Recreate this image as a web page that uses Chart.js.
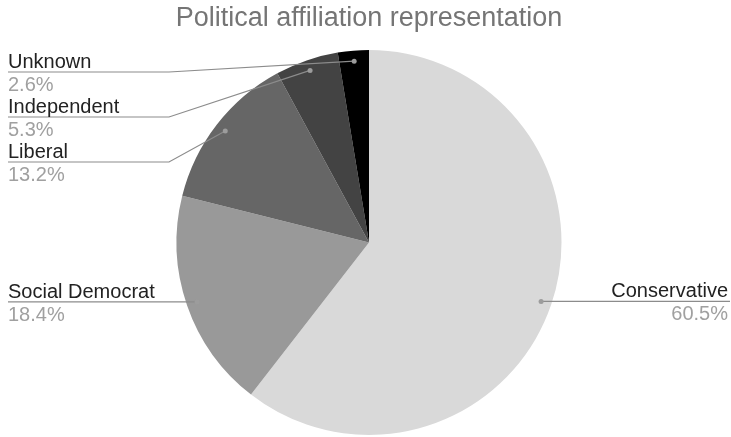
<!DOCTYPE html>
<html>
<head>
<meta charset="utf-8">
<script src="https://cdn.jsdelivr.net/npm/chart.js@4"></script>
<style>
  html, body { margin: 0; padding: 0; background: #fff; }
  #wrap { width: 731px; height: 437px; position: relative; }
</style>
</head>
<body>
<div id="wrap"><canvas id="c" width="731" height="437"></canvas></div>
<script>
const categories = ['Conservative', 'Social Democrat', 'Liberal', 'Independent', 'Unknown'];
const values = [60.5, 18.4, 13.2, 5.3, 2.6];
const sliceColors = ['#d9d9d9', '#999999', '#666666', '#434343', '#000000'];
// stacked label-line y for the small slices on the left (null = horizontal at the dot)
const leaderY = [null, null, 162, 117, 72];

const FONT = '"Liberation Sans", Arial, sans-serif';

const labelPlugin = {
  id: 'pieLabels',
  afterDraw(chart) {
    const ctx = chart.ctx;
    const meta = chart.getDatasetMeta(0);
    const total = values.reduce((a, b) => a + b, 0);
    const lineColor = '#8c8c8c';
    ctx.save();
    meta.data.forEach((arc, i) => {
      const p = arc.getProps(['x', 'y', 'startAngle', 'endAngle', 'outerRadius'], true);
      const mid = (p.startAngle + p.endAngle) / 2;
      const r = p.outerRadius * 0.945;
      const px = p.x + Math.cos(mid) * r;
      const py = p.y + Math.sin(mid) * r;
      const pct = (values[i] / total * 100).toFixed(1) + '%';
      ctx.strokeStyle = lineColor;
      ctx.lineWidth = 1.2;
      ctx.beginPath();
      let ly;
      if (px > p.x) {
        ly = py;
        ctx.moveTo(px, ly);
        ctx.lineTo(730, ly);
      } else if (leaderY[i] == null) {
        ly = py;
        ctx.moveTo(px, ly);
        ctx.lineTo(8, ly);
      } else {
        ly = leaderY[i];
        ctx.moveTo(px, py);
        ctx.lineTo(169, ly);
        ctx.lineTo(8, ly);
      }
      ctx.stroke();
      ctx.fillStyle = '#9c9c9c';
      ctx.beginPath();
      ctx.arc(px, py, 2.5, 0, Math.PI * 2);
      ctx.fill();

      ctx.font = '20px ' + FONT;
      ctx.textBaseline = 'alphabetic';
      if (px > p.x) {
        ctx.textAlign = 'right';
        ctx.fillStyle = '#222222';
        ctx.fillText(categories[i], 728, ly - 4);
        ctx.fillStyle = '#a0a0a0';
        ctx.fillText(pct, 728, ly + 19);
      } else {
        ctx.textAlign = 'left';
        ctx.fillStyle = '#222222';
        ctx.fillText(categories[i], 8, ly - 4);
        ctx.fillStyle = '#a0a0a0';
        ctx.fillText(pct, 8, ly + 19);
      }
    });
    ctx.restore();
  }
};

new Chart(document.getElementById('c'), {
  type: 'pie',
  data: {
    labels: categories,
    datasets: [{
      data: values,
      backgroundColor: sliceColors,
      borderWidth: 0
    }]
  },
  options: {
    responsive: false,
    animation: false,
    layout: { padding: { left: 7, right: 0, top: 0, bottom: 2 } },
    plugins: {
      legend: { display: false },
      tooltip: { enabled: false },
      title: {
        display: true,
        text: 'Political affiliation representation',
        color: '#757575',
        font: { family: FONT, size: 27, weight: 'normal' },
        padding: { top: 2.4, bottom: 15.2 }
      }
    }
  },
  plugins: [labelPlugin]
});
</script>
</body>
</html>
